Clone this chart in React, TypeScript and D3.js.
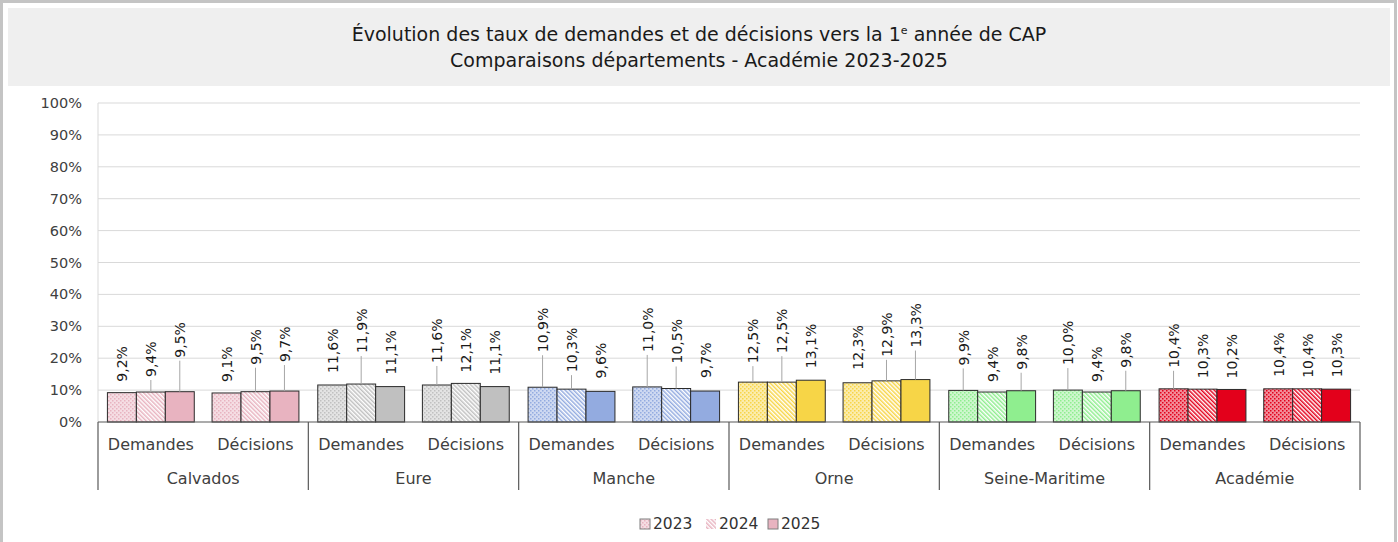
import React from "react";
import * as d3 from "d3";

const groups = ["Calvados", "Eure", "Manche", "Orne", "Seine-Maritime", "Académie"];
const subcats = ["Demandes", "Décisions"];
const years = ["2023", "2024", "2025"];
const values2023 = [9.2, 9.1, 11.6, 11.6, 10.9, 11.0, 12.5, 12.3, 9.9, 10.0, 10.4, 10.4];
const values2024 = [9.4, 9.5, 11.9, 12.1, 10.3, 10.5, 12.5, 12.9, 9.4, 9.4, 10.3, 10.4];
const values2025 = [9.5, 9.7, 11.1, 11.1, 9.6, 9.7, 13.1, 13.3, 9.8, 9.8, 10.2, 10.3];
const yTicks = [0, 10, 20, 30, 40, 50, 60, 70, 80, 90, 100];
const groupColors = ["#e8b3c0", "#c0c0c0", "#93abe0", "#f7d547", "#8fee8f", "#e3001b"];

// layout: label lift above bar top (px), as placed in the reference
const lift2023 = [11, 11, 12, 22, 35, 35, 19, 13, 25, 25, 21, 12];
const lift2024 = [15, 27, 31, 11, 17, 25, 29, 24, 10, 10, 11, 11];
const lift2025 = [34, 29, 12, 12, 13, 13, 12, 32, 21, 23, 11, 12];

const W = 1398, H = 542;
const FONT = "DejaVu Sans, sans-serif";

export default function App() {
  const left = 98, right = 1360, top = 103, bottom = 422;
  const y = d3.scaleLinear().domain([0, 100]).range([bottom, top]);
  const x0 = d3.scaleBand<string>().domain(groups).range([left, right]);
  const x1 = d3.scaleBand<string>().domain(subcats).range([0, x0.bandwidth()]).paddingInner(0.17).paddingOuter(0.09);
  const x2 = d3.scaleBand<string>().domain(years).range([0, x1.bandwidth()]);
  const series = [values2023, values2024, values2025];
  const lifts = [lift2023, lift2024, lift2025];
  const fmt = (v: number) => d3.format(".1f")(v).replace(".", ",") + "%";
  const tint = (c: string, t: number) => d3.interpolateRgb("#ffffff", c)(t);

  const fillFor = (gi: number, yi: number) =>
    yi === 0 ? `url(#dots${gi})` : yi === 1 ? `url(#stripes${gi})` : groupColors[gi];

  const bars: React.ReactNode[] = [];
  const labels: React.ReactNode[] = [];
  groups.forEach((g, gi) => {
    subcats.forEach((s, si) => {
      const idx = gi * 2 + si;
      years.forEach((yr, yi) => {
        const v = series[yi][idx];
        const bx = x0(g)! + x1(s)! + x2(yr)!;
        const bw = x2.bandwidth();
        const by = y(v);
        bars.push(
          <rect key={`b${idx}${yi}`} x={bx} y={by} width={bw} height={bottom - by}
            fill={fillFor(gi, yi)} stroke="#2b2b2b" strokeWidth={1} />
        );
        const lift = lifts[yi][idx];
        const lb = by - lift;
        const cx = bx + bw / 2;
        if (lift > 14) {
          labels.push(<line key={`l${idx}${yi}`} x1={cx} x2={cx} y1={by} y2={lb + 3} stroke="#a6a6a6" strokeWidth={1} />);
        }
        labels.push(
          <text key={`t${idx}${yi}`} transform={`translate(${cx + 5.5},${lb}) rotate(-90)`}
            fontSize={14} fill="#1a1a1a" fontFamily={FONT}>{fmt(v)}</text>
        );
      });
    });
  });

  return (
    <svg width={W} height={H} style={{ position: "absolute", left: 0, top: 0, background: "#fff" }}>
      <defs>
        {groupColors.map((c, gi) => (
          <React.Fragment key={gi}>
            <pattern id={`dots${gi}`} width={4} height={4} patternUnits="userSpaceOnUse">
              <rect width={4} height={4} fill={tint(c, 0.45)} />
              <rect x={0} y={0} width={1.5} height={1.5} fill={c} />
              <rect x={2} y={2} width={1.5} height={1.5} fill={c} />
            </pattern>
            <pattern id={`stripes${gi}`} width={3} height={3} patternUnits="userSpaceOnUse" patternTransform="rotate(-45)">
              <rect width={3} height={3} fill="#ffffff" />
              <rect width={1.5} height={3} fill={c} />
            </pattern>
          </React.Fragment>
        ))}
      </defs>
      <rect x={1.5} y={1.5} width={1394} height={560} fill="none" stroke="#c4c4c4" strokeWidth={3} />
      <rect x={8} y={8} width={1382} height={78} fill="#efefef" />
      <text x={699} y={41} textAnchor="middle" fontSize={19} fontFamily={FONT} fill="#1a1a1a">
        Évolution des taux de demandes et de décisions vers la 1<tspan fontSize={11} dy={-7}>e</tspan><tspan dy={7}> année de CAP</tspan>
      </text>
      <text x={699} y={67} textAnchor="middle" fontSize={19} fontFamily={FONT} fill="#1a1a1a">
        Comparaisons départements - Académie 2023-2025
      </text>

      {yTicks.map((t) => (
        <g key={t}>
          {t > 0 && <line x1={left} x2={right} y1={y(t)} y2={y(t)} stroke="#d9d9d9" strokeWidth={1} />}
          <text x={82} y={y(t)} dy="0.35em" textAnchor="end" fontSize={14.5} fontFamily={FONT} fill="#404040">{t}%</text>
        </g>
      ))}
      <line x1={left} x2={left} y1={top} y2={bottom} stroke="#d9d9d9" strokeWidth={1} />

      {bars}
      {labels}

      <line x1={left} x2={right} y1={bottom} y2={bottom} stroke="#595959" strokeWidth={1.2} />
      {groups.map((g) => (
        <line key={`sep${g}`} x1={x0(g)!} x2={x0(g)!} y1={bottom} y2={490} stroke="#595959" strokeWidth={1.2} />
      ))}
      <line x1={right} x2={right} y1={bottom} y2={490} stroke="#595959" strokeWidth={1.2} />
      {groups.map((g) => (
        <g key={`cat${g}`}>
          {subcats.map((s) => (
            <text key={s} x={x0(g)! + x1(s)! + x1.bandwidth() / 2} y={444} dy="0.35em" textAnchor="middle"
              fontSize={16} fontFamily={FONT} fill="#404040">{s}</text>
          ))}
          <text x={x0(g)! + x0.bandwidth() / 2} y={478} dy="0.35em" textAnchor="middle"
            fontSize={16} fontFamily={FONT} fill="#404040">{g}</text>
        </g>
      ))}

      {years.map((yr, yi) => {
        const lx = [640, 706, 768][yi];
        return (
          <g key={`lg${yr}`}>
            <rect x={lx} y={519} width={10} height={10} fill={fillFor(0, yi)} stroke={yi === 1 ? "none" : "#7f7f7f"} strokeWidth={1} />
            <text x={lx + 13} y={524} dy="0.35em" fontSize={15.5} fontFamily={FONT} fill="#333">{yr}</text>
          </g>
        );
      })}
    </svg>
  );
}
